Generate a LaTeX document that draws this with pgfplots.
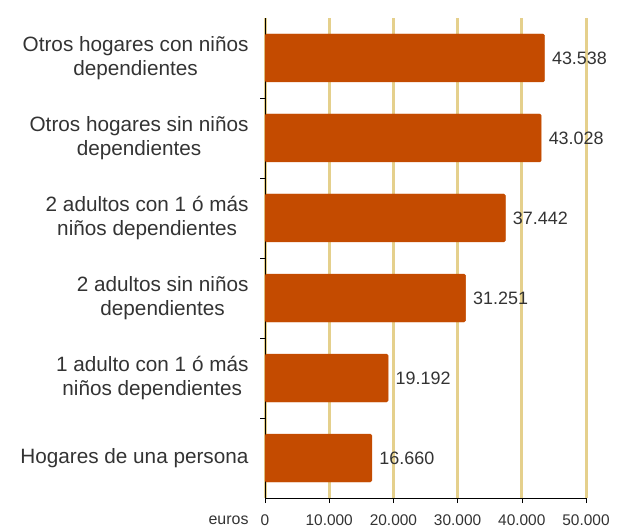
\documentclass[border=0pt]{standalone}
\usepackage{pgfplots}
\pgfplotsset{compat=1.18}
\usepackage{fontspec}
\setmainfont{Liberation Sans}
\definecolor{barc}{HTML}{C44B00}
\definecolor{gridc}{HTML}{E5D08C}
\definecolor{txt}{HTML}{333333}
\begin{document}
\begin{tikzpicture}
\begin{axis}[
  scale only axis,
  width=321bp, height=480bp,
  xbar, bar width=0.6,
  xmin=0, xmax=50000,
  ymin=-0.5, ymax=5.5,
  axis lines*=left,
  scaled x ticks=false,
  xtick={0,10000,20000,30000,40000,50000},
  xticklabels={0,10.000,20.000,30.000,40.000,50.000},
  ytick={0,1,2,3,4,5},
  yticklabels={Hogares de una persona,
    {1 adulto con 1 ó más\\niños dependientes},
    {2 adultos sin niños\\dependientes},
    {2 adultos con 1 ó más\\niños dependientes},
    {Otros hogares sin niños\\dependientes},
    {Otros hogares con niños\\dependientes}},
  yticklabel style={align=center, font=\fontsize{20.8}{24}\selectfont, text=txt, xshift=-8bp},
  xticklabel style={font=\fontsize{15.5}{18}\selectfont, text=txt, yshift=-8bp},
  /pgf/number format/assume math mode=true,
  major y tick style={draw=none},
  minor ytick={0.5,1.5,2.5,3.5,4.5},
  minor tick length=5bp,
  major tick length=5bp,
  tick style={black, thin},
  tick align=outside,
  xmajorgrids,
  major x grid style={gridc, line width=3bp},
  axis line style={black, thin},
  nodes near coords,
  nodes near coords style={font=\fontsize{18}{21}\selectfont, text=txt, anchor=west, xshift=4bp,
    /pgf/number format/.cd, fixed, 1000 sep={.}, assume math mode=true},
  clip=false,
]
\addplot[fill=barc, draw=barc, rounded corners=1.5bp] coordinates {
  (16660,0) (19192,1) (31251,2) (37442,3) (43028,4) (43538,5)};
\coordinate (o) at (rel axis cs:0,0);
\coordinate (t) at (rel axis cs:1,1);
\node[font=\fontsize{16}{18}\selectfont, text=txt, anchor=base east] at ([shift={(-13bp,-26bp)}]o) {euros};
\end{axis}
\path ([shift={(-265bp,-30bp)}]o) rectangle ([shift={(33bp,18bp)}]t);
\end{tikzpicture}
\end{document}
